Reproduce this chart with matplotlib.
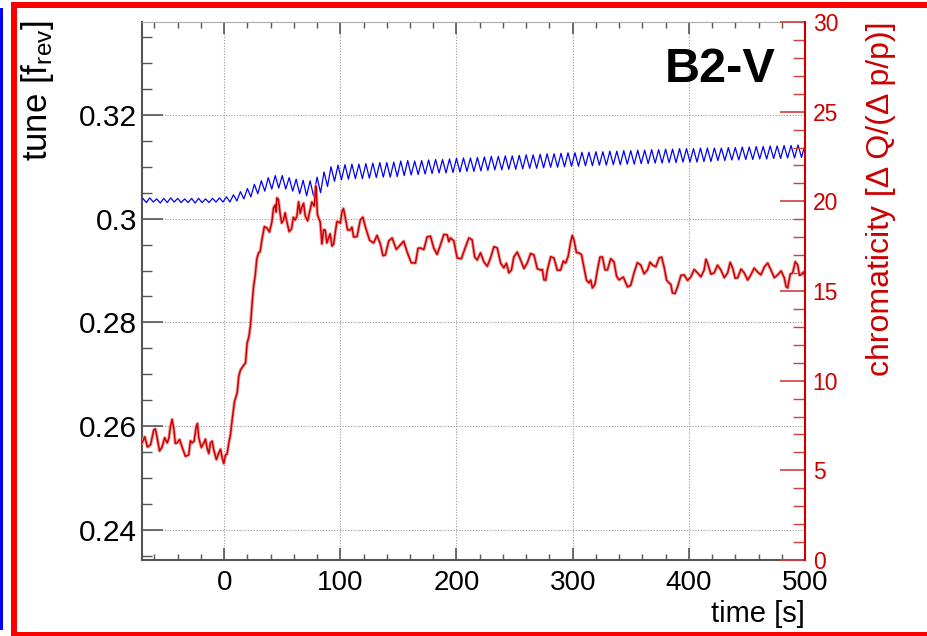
import numpy as np
import matplotlib
matplotlib.use('Agg')
import matplotlib.pyplot as plt
from matplotlib.ticker import MultipleLocator, FixedLocator, FixedFormatter
from matplotlib.patches import Rectangle

plt.rcParams['font.family'] = ['Liberation Sans', 'DejaVu Sans']
plt.rcParams['mathtext.default'] = 'regular'

# ---------------- data ----------------
# chromaticity (right axis), time in s : main readings
chroma_t = [-70.7, -66, -60.6, -57.8, -53.4, -49, -46.3, -43.4, -40.5, -36.2,
            -30.5, -27.6, -24.1, -21.8, -17.5, -14.7, -11.8, -8.9, -4.6, -1.7,
            1.1, 4, 6.9, 11.2, 14.1, 18.4, 21.3, 24.1, 26.7, 29.6,
            32.5, 36.8, 41.1, 44, 45.4, 48, 51.1, 54, 58, 61.2,
            64.1, 67, 69.8, 74, 77, 78.4, 79.3, 81.3, 84.2, 87,
            89.9, 92.8, 95.7, 98.5, 101.4, 104, 108.6, 111.5, 117.2, 121.6,
            128.7, 134.5, 138.8, 144.6, 151.7, 157.5, 164.7, 169, 174.7, 180.4,
            186.2, 192, 194.8, 200.6, 207.8, 213.5, 217.8, 223.6, 229.3, 235.1,
            240.8, 245.1, 249.4, 255.2, 260.9, 266.7, 272.4, 275.3, 278.2, 283.9,
            289.7, 294, 298.3, 301.1, 305.5, 309.7, 314, 317, 321.3, 325.6,
            329.9, 335.6, 339.9, 347.2, 352.8, 358.6, 364.4, 368.7, 374.4, 378.7,
            383, 385.9, 390.3, 396, 401.7, 407.5, 413.2, 416.1, 421.8, 427.6,
            433.4, 437.7, 442, 447.7, 453.4, 459.2, 465, 470.7, 476.5, 482.2,
            485.1, 489.4, 493.7, 496.6, 500.9]
chroma_v = [6.53, 6.30, 7.25, 6.86, 6.30, 6.53, 7.42, 7.36, 6.53, 6.30,
            5.86, 6.53, 7.42, 6.80, 6.53, 6.25, 6.53, 6.13, 5.97, 5.69,
            5.86, 6.53, 7.81, 9.31, 10.60, 10.99, 12.44, 14.33, 15.84, 17.12,
            17.85, 18.52, 18.85, 19.80, 20.19, 19.41, 18.96, 18.85, 18.46, 18.96,
            19.97, 19.69, 19.19, 19.52, 19.80, 20.47, 20.64, 19.07, 17.62, 18.40,
            17.96, 17.51, 18.29, 18.85, 19.41, 19.19, 18.40, 18.01, 18.96, 18.57,
            17.68, 17.62, 17.01, 17.96, 17.57, 17.18, 16.56, 17.40, 18.01, 17.40,
            17.57, 18.13, 17.96, 16.84, 17.46, 17.85, 16.73, 16.62, 16.84, 17.40,
            16.29, 16.01, 16.90, 16.73, 16.56, 17.01, 16.17, 15.62, 16.17, 16.84,
            16.17, 16.56, 17.74, 17.85, 17.12, 16.34, 15.45, 15.17, 16.17, 16.90,
            16.17, 16.62, 15.62, 15.23, 16.01, 16.45, 16.17, 16.45, 16.84, 16.34,
            15.45, 14.89, 15.23, 15.90, 15.78, 16.01, 16.17, 16.56, 16.01, 16.17,
            16.01, 16.29, 15.73, 16.01, 15.90, 16.06, 16.34, 16.17, 15.90, 15.73,
            15.17, 16.01, 16.45, 15.90, 15.62]
# chromaticity: in-between readings (small-scale jitter of the trace)
chroma_mid_t = [-68.3, -63.3, -59.2, -55.6, -51.2, -47.6, -44.8, -42.0, -38.3, -33.3,
                -29.0, -25.8, -23.0, -19.6, -16.1, -13.2, -10.3, -6.7, -3.1, -0.3,
                2.5, 5.4, 9.0, 12.6, 16.2, 19.8, 22.7, 25.4, 28.1, 31.0,
                34.6, 39.0, 42.5, 44.7, 46.7, 49.5, 52.5, 56.0, 59.6, 62.6,
                65.5, 68.4, 71.9, 75.5, 77.7, 78.8, 80.3, 82.7, 85.6, 88.4,
                91.3, 94.2, 97.1, 100.0, 102.7, 106.3, 110.0, 114.4, 119.4, 125.2,
                131.6, 136.7, 141.7, 148.2, 154.6, 161.1, 166.9, 171.9, 177.6, 183.3,
                189.1, 193.4, 197.7, 204.2, 210.7, 215.7, 220.7, 226.5, 232.2, 238.0,
                243.0, 247.3, 252.3, 258.1, 263.8, 269.6, 273.9, 276.8, 281.1, 286.8,
                291.9, 296.2, 299.7, 303.3, 307.6, 311.9, 315.5, 319.2, 323.5, 327.8,
                332.8, 337.8, 343.6, 350.0, 355.7, 361.5, 366.6, 371.6, 376.6, 380.9,
                384.5, 388.1, 393.2, 398.9, 404.6, 410.4, 414.7, 419.0, 424.7, 430.5,
                435.6, 439.9, 444.9, 450.6, 456.3, 462.1, 467.9, 473.6, 479.4, 483.7,
                487.3, 491.6, 495.2, 498.8]
chroma_mid_v = [6.87, 6.43, 7.31, 6.08, 6.82, 6.78, 7.84, 6.50, 6.72, 5.78,
                6.65, 6.63, 7.61, 6.27, 6.74, 5.94, 6.63, 5.60, 6.18, 5.38,
                5.90, 6.97, 8.86, 10.26, 10.80, 12.10, 13.10, 15.29, 16.78, 17.19,
                18.59, 18.29, 19.63, 19.40, 20.10, 18.79, 19.36, 18.31, 19.11, 19.17,
                19.33, 19.89, 18.91, 19.96, 19.74, 20.86, 19.26, 18.85, 18.41, 17.68,
                18.19, 17.60, 18.87, 18.78, 19.60, 18.40, 18.56, 18.04, 19.12, 17.83,
                18.10, 16.97, 17.79, 17.32, 17.78, 16.57, 17.38, 17.31, 18.06, 17.04,
                18.15, 17.75, 17.80, 16.80, 17.96, 16.89, 17.13, 16.38, 17.47, 16.55,
                16.55, 16.16, 17.17, 16.25, 17.09, 16.24, 16.20, 15.60, 16.91, 16.16,
                16.67, 16.95, 18.10, 17.14, 17.03, 15.60, 15.61, 15.37, 16.89, 16.19,
                16.80, 15.82, 15.78, 15.32, 16.58, 15.96, 16.61, 16.35, 16.89, 15.60,
                15.37, 14.86, 15.87, 15.59, 16.20, 15.79, 16.77, 15.94, 16.44, 15.74,
                16.60, 15.71, 16.22, 15.61, 16.28, 15.90, 16.56, 15.74, 16.12, 15.25,
                15.94, 16.63, 15.88, 16.06]

# tune (left axis): successive maxima / minima of the oscillation, every 3 s from t = -70 s
tune_start = -70.0
tune_halfperiod = 3.0
tune_peaks = [0.3039, 0.3040, 0.3038, 0.3039, 0.3040, 0.3039, 0.3038, 0.3039, 0.3039, 0.3038,
              0.3039, 0.3040, 0.3042, 0.3046, 0.3052, 0.3058, 0.3066, 0.3073, 0.3079, 0.3083,
              0.3083, 0.3079, 0.3076, 0.3074, 0.3073, 0.3080, 0.3090, 0.3100, 0.3103, 0.3104,
              0.3105, 0.3105, 0.3106, 0.3107, 0.3108, 0.3108, 0.3109, 0.3111, 0.3112, 0.3111,
              0.3112, 0.3113, 0.3114, 0.3114, 0.3115, 0.3116, 0.3117, 0.3117, 0.3118, 0.3119,
              0.3120, 0.3120, 0.3121, 0.3121, 0.3122, 0.3123, 0.3123, 0.3124, 0.3125, 0.3125,
              0.3126, 0.3127, 0.3127, 0.3128, 0.3128, 0.3129, 0.3129, 0.3130, 0.3130, 0.3131,
              0.3131, 0.3132, 0.3132, 0.3133, 0.3133, 0.3134, 0.3134, 0.3135, 0.3135, 0.3135,
              0.3136, 0.3136, 0.3136, 0.3136, 0.3137, 0.3137, 0.3138, 0.3138, 0.3139, 0.3139,
              0.3140, 0.3140, 0.3141, 0.3141, 0.3142, 0.3142]
tune_troughs = [0.3031, 0.3032, 0.3030, 0.3031, 0.3032, 0.3031, 0.3031, 0.3030, 0.3031, 0.3031,
                0.3032, 0.3032, 0.3032, 0.3034, 0.3038, 0.3042, 0.3048, 0.3053, 0.3057, 0.3059,
                0.3057, 0.3053, 0.3048, 0.3044, 0.3043, 0.3050, 0.3062, 0.3072, 0.3075, 0.3076,
                0.3077, 0.3077, 0.3078, 0.3079, 0.3080, 0.3080, 0.3081, 0.3083, 0.3084, 0.3085,
                0.3086, 0.3087, 0.3088, 0.3088, 0.3089, 0.3090, 0.3091, 0.3091, 0.3092, 0.3093,
                0.3094, 0.3094, 0.3095, 0.3095, 0.3096, 0.3097, 0.3097, 0.3098, 0.3099, 0.3099,
                0.3100, 0.3101, 0.3101, 0.3102, 0.3102, 0.3103, 0.3103, 0.3104, 0.3104, 0.3105,
                0.3105, 0.3106, 0.3106, 0.3107, 0.3107, 0.3108, 0.3108, 0.3109, 0.3109, 0.3109,
                0.3110, 0.3110, 0.3112, 0.3112, 0.3113, 0.3113, 0.3114, 0.3114, 0.3115, 0.3115,
                0.3116, 0.3116, 0.3117, 0.3117, 0.3118, 0.3118]

x_ticks = [0, 100, 200, 300, 400, 500]
y_ticks = [0.24, 0.26, 0.28, 0.30, 0.32]
y_ticklabels = ["0.24", "0.26", "0.28", "0.3", "0.32"]
c_ticks = [0, 5, 10, 15, 20, 25, 30]

# ---------------- build series ----------------
tune_v = np.empty(len(tune_peaks) + len(tune_troughs))
tune_v[0::2] = tune_peaks
tune_v[1::2] = tune_troughs
tune_t = tune_start + tune_halfperiod * np.arange(len(tune_v))

ct = np.concatenate([chroma_t, chroma_mid_t])
cv = np.concatenate([chroma_v, chroma_mid_v])
order = np.argsort(ct)
ct, cv = ct[order], cv[order]

W, H = 928, 636
fig = plt.figure(figsize=(W / 100, H / 100), dpi=100)
fig.patch.set_facecolor('white')

# outer frame decorations
fig.add_artist(Rectangle((0, 1 - 630 / H), 3.5 / W, 622 / H, transform=fig.transFigure,
                         color='#0000ff', lw=0))
fig.add_artist(Rectangle((11 / W, 0), 6.5 / W, 1 - 1.5 / H, transform=fig.transFigure,
                         color='#ff0000', lw=0))
fig.add_artist(Rectangle((11 / W, 1 - 7.5 / H), 1, 6 / H, transform=fig.transFigure,
                         color='#ff0000', lw=0))
fig.add_artist(Rectangle((11 / W, 0), 1, 4.5 / H, transform=fig.transFigure,
                         color='#ff0000', lw=0))

ax = fig.add_axes([142 / W, (H - 560) / H, (805 - 142) / W, (560 - 22) / H])
ax.set_xlim(-70.7, 500)
ax.set_ylim(0.2342, 0.3379)

ax.plot(tune_t, tune_v, color='#0000ff', lw=0.9, zorder=3)

ax.xaxis.set_major_locator(FixedLocator(x_ticks))
ax.xaxis.set_minor_locator(MultipleLocator(20))
ax.yaxis.set_major_locator(FixedLocator(y_ticks))
ax.yaxis.set_major_formatter(FixedFormatter(y_ticklabels))
ax.yaxis.set_minor_locator(MultipleLocator(0.005))

ax.grid(True, which='major', color='#999999', linestyle=(0, (1, 1.5)), linewidth=0.8)

for s in ['left', 'bottom']:
    ax.spines[s].set_color('#555555')
    ax.spines[s].set_linewidth(1.5)
ax.spines['top'].set_color('#aaaaaa')
ax.spines['top'].set_linewidth(0.8)
ax.spines['right'].set_visible(False)

ax.tick_params(axis='x', which='both', direction='in', top=True, bottom=True,
               colors='#555555', labelcolor='black', labelsize=20, pad=7)
ax.tick_params(axis='x', which='major', length=8.6, width=1.2)
ax.tick_params(axis='x', which='minor', length=4, width=1.0)
ax.tick_params(axis='y', which='both', direction='in', left=True, right=False,
               colors='#555555', labelcolor='black', labelsize=21.5, pad=3.5)
ax.tick_params(axis='y', which='major', length=15, width=1.2)
ax.tick_params(axis='y', which='minor', length=7.2, width=1.0)

ax.set_xlabel('time [s]', loc='right', fontsize=21, labelpad=3)

ax2 = ax.twinx()
ax2.set_ylim(0, 30)
ax2.plot(ct, cv, color='#f0a0a0', lw=2.4, solid_joinstyle='round', zorder=2)
ax2.plot(ct, cv, color='#cc0000', lw=1.1, zorder=3)
ax2.yaxis.set_major_locator(FixedLocator(c_ticks))
ax2.yaxis.set_minor_locator(MultipleLocator(1))
for s in ['left', 'bottom', 'top']:
    ax2.spines[s].set_visible(False)
ax2.spines['right'].set_color('#cc0000')
ax2.spines['right'].set_linewidth(1.5)
ax2.tick_params(axis='y', which='both', direction='in', right=True, left=False,
                colors='#d04040', labelcolor='#cc0000', labelsize=16.5, pad=5.5)
ax2.tick_params(axis='y', which='major', length=18, width=1.2)
ax2.tick_params(axis='y', which='minor', length=8.6, width=1.0)

fig.text(19 / W, 1 - 20 / H, 'tune [f$_{rev}$]', rotation=90, ha='left', va='top',
         fontsize=25, color='black')
fig.text(866 / W, 1 - 21 / H, 'chromaticity [\u0394 Q/(\u0394 p/p)]', rotation=90,
         ha='left', va='top', fontsize=23, color='#cc0000')
fig.text(665 / W, 1 - 82 / H, 'B2-V', fontsize=35, fontweight='bold', ha='left',
         va='baseline', color='black')

fig.savefig('out.png', dpi=100)
